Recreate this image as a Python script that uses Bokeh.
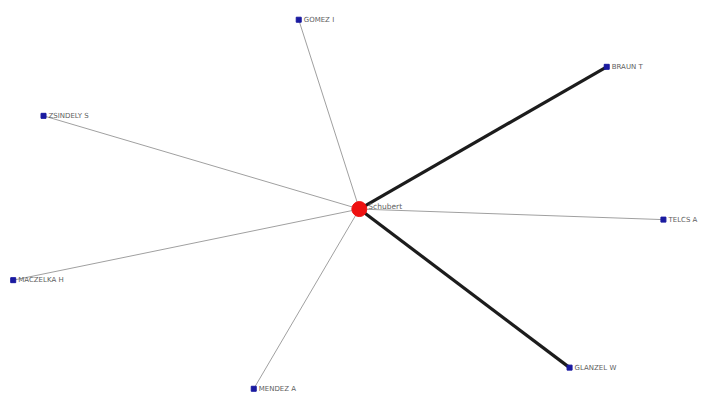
from bokeh.plotting import figure
from bokeh.models import Range1d, ColumnDataSource
from bokeh.embed import file_html
from bokeh.resources import INLINE
from bokeh.core.properties import value

# Network data (layout positions, in picture pixels)
center_name = "Schubert"
center_x = [367]
center_y = [217]

co_authors = ["GOMEZ I", "BRAUN T", "ZSINDELY S", "TELCS A",
              "MACZELKA H", "GLANZEL W", "MENDEZ A"]
node_x = [305, 620, 44, 678, 13, 582, 259]
node_y = [20, 69, 120, 228, 291, 382, 404]
link_weight = [1, 3, 1, 1, 1, 3, 1]

p = figure(width=704, height=395, output_backend="svg", toolbar_location=None,
           x_range=Range1d(0, 720), y_range=Range1d(411, 0),
           min_border=0, outline_line_color=None)
p.axis.visible = False
p.grid.visible = False
p.background_fill_color = "white"

xs = [[center_x[0], x] for x in node_x]
ys = [[center_y[0], y] for y in node_y]
colors = ["#1c1c1c" if w > 1 else "#a0a0a0" for w in link_weight]
widths = [3.2 if w > 1 else 1.0 for w in link_weight]
edges = ColumnDataSource(dict(xs=xs, ys=ys, c=colors, w=widths))
p.multi_line(xs="xs", ys="ys", line_color="c", line_width="w", source=edges)

nodes = ColumnDataSource(dict(x=node_x, y=node_y, name=co_authors))
p.scatter(x="x", y="y", source=nodes, marker="square", size=5,
          fill_color="#1a1aa0", line_color="#1a1aa0")
p.text(x="x", y="y", text="name", source=nodes, x_offset=5,
       text_font=value("DejaVu Sans"), text_font_size="7px",
       text_color="#606060", text_baseline="middle", text_align="left")

p.scatter(x=center_x, y=center_y, marker="circle", size=15,
          fill_color="#ee1111", line_color="#ee1111")
p.text(x=center_x, y=center_y, text=[center_name], x_offset=9, y_offset=-3,
       text_font=value("DejaVu Sans"), text_font_size="7.5px",
       text_color="#606060", text_baseline="middle", text_align="left")

open("out.html", "w").write(file_html(p, INLINE))
